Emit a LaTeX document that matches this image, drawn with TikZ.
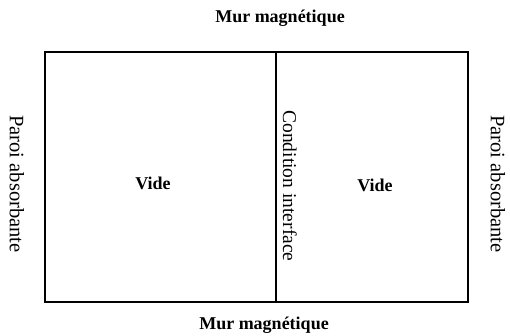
\documentclass[tikz,border=0pt]{standalone}
\usepackage{fontspec}
\setmainfont{Liberation Serif}
\begin{document}
\begin{tikzpicture}[x=1pt,y=-1pt,
  lbl/.style={inner sep=0pt,font=\fontsize{18}{20}\selectfont\bfseries},
  vlbl/.style={inner sep=0pt,font=\fontsize{20.5}{22}\selectfont,rotate=-90},
  wall/.style={line width=1.4pt}]
\useasboundingbox (0,0) rectangle (510,336);
\coordinate (tl) at (45,52);
\coordinate (br) at (468,302);
\coordinate (dt) at (276,52);
\coordinate (db) at (276,302);
\draw[wall] (tl) rectangle (br);
\draw[wall] (dt) -- (db);
\node[lbl] (top) at (280,18) {Mur magnétique};
\node[lbl] (bot) at (264,325) {Mur magnétique};
\node[lbl] (v1) at (153,183) {Vide};
\node[lbl] (v2) at (375,185) {Vide};
\node[vlbl] (pl) at (17,184) {Paroi absorbante};
\node[vlbl, font=\fontsize{19.5}{22}\selectfont] (ci) at (290,186) {Condition interface};
\node[vlbl] (pr) at (498,184) {Paroi absorbante};
\end{tikzpicture}
\end{document}
